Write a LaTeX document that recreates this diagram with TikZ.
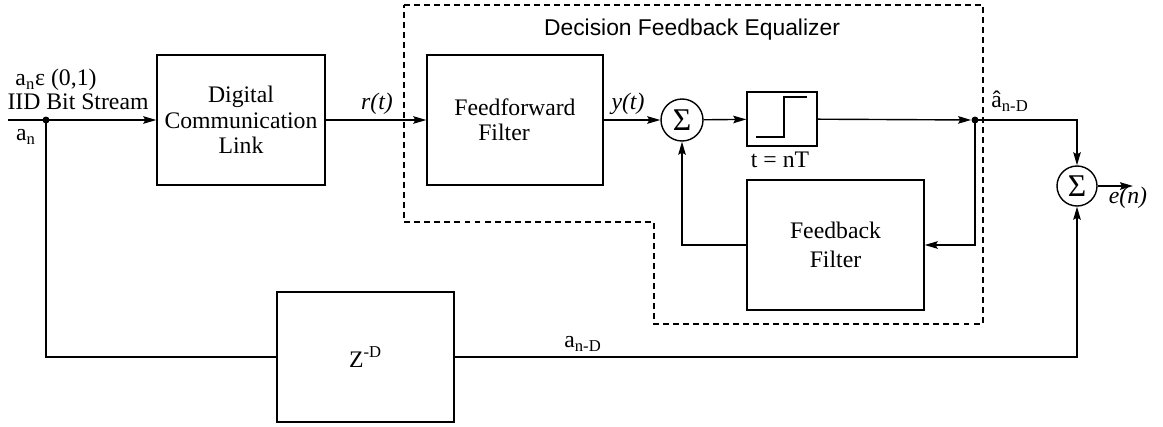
\documentclass[tikz,border=0pt]{standalone}
\usepackage{fontspec}
\setmainfont{Liberation Serif}
\newfontfamily\titlefont{Liberation Sans}
\usetikzlibrary{arrows.meta,positioning}
\tikzset{
  >={Stealth[length=2.6mm,width=1.5mm,inset=0.4mm]},
  % blocks
  blk/.style={draw,line width=0.8pt,inner sep=0pt,align=center,
              font=\fontsize{13.5}{14.5}\selectfont},
  summ/.style={circle,draw,line width=0.8pt,inner sep=0pt,minimum size=8.4mm,
               font=\fontsize{18}{18}\selectfont},
  tap/.style={circle,fill,inner sep=0pt,minimum size=1.4mm},
  sig/.style={->,line width=0.8pt},
  wire/.style={line width=0.8pt},
  lbl/.style={inner sep=1pt,font=\fontsize{13.5}{15}\selectfont},
  dfe/.style={line width=0.8pt,dash pattern=on 3.4pt off 2.3pt},
}
\begin{document}
\begin{tikzpicture}[x=0.2mm,y=-0.2mm]
\useasboundingbox (0,0) rectangle (1163,426);
  % equalizer frame
  \draw[dfe] (404,5) -- (983,5) -- (983,324) -- (654,324) -- (654,222)
    -- (404,222) -- cycle;
  \node[font=\titlefont\fontsize{13}{15}\selectfont] (title) at (692,30)
    {Decision Feedback Equalizer};
  % blocks
  \coordinate (in) at (8,120);
  \node[tap] (src) at (46,120) {};
  \node[blk,minimum width=33.6mm,minimum height=26mm] (link) at (241,120)
    {Digital\\Communication\\Link};
  \node[blk,minimum width=35.2mm,minimum height=26mm] (ff) at (515,120)
    {Feedforward\\Filter\hspace*{4.4mm}};
  \node[summ] (sum1) at (682,120) {Σ};
  \node[blk,minimum width=14mm,minimum height=10.8mm] (slc) at (782,119) {};
  \node[tap] (dec) at (975,120) {};
  \node[blk,minimum width=35.4mm,minimum height=26mm,
        font=\fontsize{13.5}{16.5}\selectfont] (fb) at (835.5,245)
    {Feedback\\Filter};
  \node[summ,minimum size=8mm] (sum2) at (1077,186) {Σ};
  \coordinate (out) at (1133,186);
  \node[blk,minimum width=35.4mm,minimum height=26mm] (zd) at (365.5,357)
    {Z\textsuperscript{-D}};
  % slicer characteristic
  \draw[wire] (756,137) -- (784,137) -- (784,97) -- (807,97);
  % connectors
  \draw[sig] (in) -- (link);
  \draw[sig] (link) -- (ff);
  \draw[sig] (ff) -- (sum1);
  \draw[sig] (sum1) -- (slc);
  \draw[sig] (slc) -- (dec);
  \draw[sig] (dec.center) -| (sum2);
  \draw[sig] (dec.center) |- (fb.east);
  \draw[sig] (fb.west) -| (sum1.south);
  \draw[wire] (src.center) |- (zd.west);
  \draw[sig] (zd.east) -| (sum2.south);
  \draw[sig] (sum2) -- (out);
  % labels
  \node[lbl] (abit) at (56,80) {a\textsubscript{n}ε (0,1)};
  \node[lbl] (iid) at (78,102) {IID Bit Stream};
  \node[lbl] (an) at (26,137) {a\textsubscript{n}};
  \node[lbl] (rt) at (377,104) {\textit{r(t)}};
  \node[lbl] (yt) at (628,104) {\textit{y(t)}};
  \node[lbl] (tnt) at (780,160) {t = nT};
  \node[lbl] (ahat) at (1010,101) {â\textsubscript{n-D}};
  \node[lbl] (adel) at (583,344) {a\textsubscript{n-D}};
  \node[lbl] (en) at (1128,198) {\textit{e(n)}};
\end{tikzpicture}
\end{document}
